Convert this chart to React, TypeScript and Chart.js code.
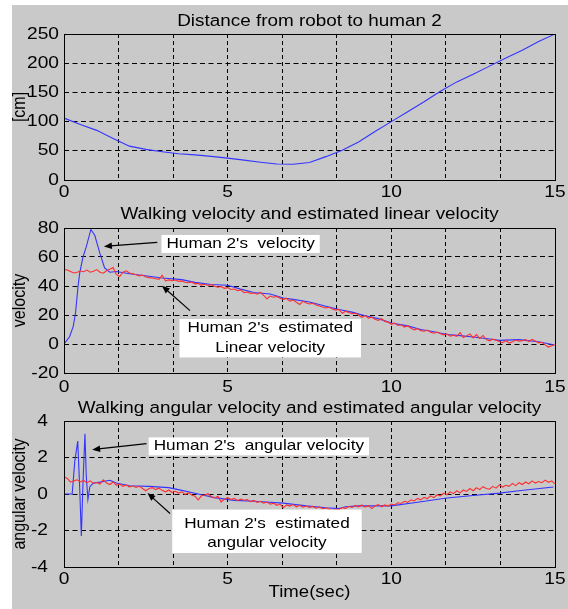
import React, { useEffect, useRef } from 'react';
import { Chart, registerables } from 'chart.js';

Chart.register(...registerables);

// ---------------- data ----------------
const distanceTime = [0, 0.5, 1, 1.5, 2, 2.5, 3, 3.5, 4, 4.5, 5, 5.5, 6, 6.5, 7, 7.5, 8, 8.5, 9, 9.5, 10, 10.5, 11, 11.5, 12, 12.5, 13, 13.5, 14, 14.5, 15];
const distanceCm = [106, 95, 85, 71, 58, 52.5, 48.5, 45, 43, 40.5, 37.5, 34, 30.5, 27.5, 27, 30, 40, 51, 65, 83, 100, 117, 134, 152, 168, 181, 195, 209, 222, 237, 250];

const velocityTime = [0, 0.17, 0.28, 0.35, 0.43, 0.48, 0.58, 0.68, 0.82, 0.94, 1.09, 1.24, 1.4, 1.6, 2.0, 2.6, 3.0, 3.6, 4.0, 4.5, 5.0, 5.37, 5.8, 6.3, 6.7, 7.0, 7.5, 8.0, 8.4, 8.8, 9.2, 9.6, 10.0, 10.5, 10.9, 11.3, 11.7, 12.1, 12.5, 13.0, 13.3, 13.9, 14.5, 14.95];
const walkingVelocity = [0, 5, 12, 21, 40, 49, 60, 67, 79, 75, 63, 52.5, 49.5, 50, 48.5, 46.7, 45.5, 44.4, 42.5, 41, 40.5, 38, 35.5, 34.5, 31.7, 30.8, 29, 26, 23.8, 22, 19.5, 17.5, 14.5, 12.5, 10, 8.5, 6.5, 5.8, 4.8, 3.5, 2.5, 3, 1.5, -0.5];

// estimated series, one sample every 0.1 s from 0 to 15 s
const SAMPLE_STEP = 0.1;
const estimatedLinearVelocity = [
  51.5, 51, 50, 49, 49.5, 50.3, 49.8, 51, 49.5, 50.2,
  51.3, 49.5, 48.8, 50.5, 51.5, 52.8, 48, 46.5, 49.5, 50.5,
  49, 48.5, 47.8, 47, 47.5, 46.2, 45.8, 45.5, 45, 44.6,
  47.5, 43.5, 44.2, 43.6, 44.1, 43.2, 43.5, 42.6, 42.2, 42.8,
  41.5, 41.8, 40.6, 41.2, 40.4, 40.9, 39.8, 39.2, 39.6, 38.4,
  38.9, 37.6, 37.9, 36.8, 37.3, 35.4, 35.9, 34.8, 35.2, 34.3,
  35.6, 33.6, 31.2, 33.1, 32.3, 32.8, 31.5, 30.8, 31.4, 29.6,
  30.3, 28.8, 27.2, 29.4, 28.3, 27.6, 28.1, 26.9, 26.2, 25.5,
  24.8, 25.3, 24.1, 23.4, 23.9, 21.2, 22.6, 21.8, 20.9, 21.3,
  19.8, 18.4, 19.6, 17.9, 18.5, 17.1, 16.2, 17.4, 15.6, 15.1,
  13.6, 14.4, 12.8, 13.3, 11.7, 12.6, 10.9, 9.8, 10.6, 9.2,
  8.8, 9.6, 8.1, 7.4, 8.2, 7.1, 6.3, 6.9, 5.4, 6.1,
  5.2, 7.8, 4.4, 5.6, 6.9, 4.2, 6.5, 3.8, 5.9, 3.1,
  2.2, 3.4, 2.6, 1.8, 0.9, 2.4, 0.6, 1.5, 2.7, 1.9,
  2.3, 3.1, 1.7, 3.2, 2.1, 0.8, 1.2, -0.6, -2.1, -1.2,
  -0.5,
];

const angularTime = [0, 0.25, 0.33, 0.42, 0.48, 0.53, 0.58, 0.64, 0.68, 0.73, 0.79, 0.9, 1.1, 1.4, 1.6, 2.0, 2.6, 3.2, 3.6, 4.1, 4.6, 5.2, 5.8, 6.7, 7.4, 8.0, 8.4, 8.6, 9.0, 10.0, 10.8, 11.7, 12.5, 13.3, 13.9, 14.95];
const walkingAngularVelocity = [0, 0, 1.8, 2.9, 0.3, -2.3, 0.6, 3.3, 1.0, -0.3, 0.4, 0.6, 0.65, 0.75, 0.6, 0.45, 0.42, 0.35, 0.2, 0, -0.2, -0.35, -0.4, -0.5, -0.65, -0.75, -0.8, -0.7, -0.65, -0.65, -0.45, -0.22, -0.08, 0.05, 0.18, 0.38];
const estimatedAngularVelocity = [
  0.95, 0.85, 0.65, 0.72, 0.78, 0.66, 0.74, 0.62, 0.72, 0.58,
  0.63, 0.55, 0.78, 0.6, 0.52, 0.66, 0.48, 0.55, 0.42, 0.5,
  0.38, 0.45, 0.36, 0.42, 0.3, 0.18, 0.3, 0.35, 0.24, 0.32,
  0.2, 0.12, 0.22, 0.08, 0.15, 0.05, 0.12, -0.02, 0.06, -0.05,
  -0.12, -0.32, -0.1, -0.05, 0.02, -0.15, -0.22, -0.12, -0.44, -0.28,
  -0.2, -0.3, -0.24, -0.36, -0.28, -0.34, -0.3, -0.42, -0.35, -0.46,
  -0.4, -0.5, -0.44, -0.56, -0.5, -0.62, -0.55, -0.75, -0.6, -0.66,
  -0.58, -0.7, -0.62, -0.72, -0.66, -0.74, -0.68, -0.78, -0.7, -0.82,
  -0.76, -0.84, -0.9, -0.82, -0.86, -0.74, -0.8, -0.68, -0.74, -0.62,
  -0.7, -0.6, -0.72, -0.64, -0.8, -0.66, -0.58, -0.7, -0.6, -0.66,
  -0.55, -0.6, -0.48, -0.52, -0.4, -0.46, -0.32, -0.38, -0.24, -0.32,
  -0.18, -0.26, -0.1, -0.2, -0.04, -0.1, 0.05, -0.04, 0.12, 0.02,
  0.18, 0.06, 0.22, 0.14, 0.3, 0.18, 0.34, 0.24, 0.4, 0.3,
  0.26, 0.42, 0.32, 0.5, 0.38, 0.48, 0.42, 0.58, 0.46, 0.62,
  0.52, 0.66, 0.56, 0.72, 0.6, 0.68, 0.62, 0.76, 0.64, 0.72,
  0.55,
];

const xTickLabels = [0, 5, 10, 15];
const xGridCount = 9; // grid divisions across 0..15
const distanceYTicks = [0, 250, 50];
const velocityYTicks = [-20, 80, 20];
const angularYTicks = [-4, 4, 2];

// ---------------- styles / layout ----------------
const FONT = '"Liberation Sans", Arial, Helvetica, sans-serif';
const SX = 1.16; // horizontal stretch of the original figure's text
const BLUE = '#3434ff';
const RED = '#ff2f2f';
const CANVAS_W = 556;

type Ann =
  | { kind: 'text'; x: number; y: number; lines: string[]; align: 'left' | 'center'; padX: number; padTop: number; padBottom: number }
  | { kind: 'arrow'; x1: number; y1: number; x2: number; y2: number };

interface PanelSpec {
  title: string;
  yTitle: string;
  xTitle?: string;
  yRange: number[];
  series: { t: number[]; v: number[]; color: string }[];
  canvasTop: number;
  canvasH: number;
  padTop: number;
  xAxisH: number;
  yLabelGap: number;
  xLabelGap: number;
  titleGap: number;
  ann: Ann[];
}

const uniformTimes = (vals: number[]) => vals.map((_, i) => Math.round(i * SAMPLE_STEP * 10) / 10);

const panels: PanelSpec[] = [
  {
    title: 'Distance from robot to human 2',
    yTitle: '[cm]',
    yRange: distanceYTicks,
    series: [{ t: distanceTime, v: distanceCm, color: BLUE }],
    canvasTop: 5,
    canvasH: 195,
    padTop: 29,
    xAxisH: 20,
    yLabelGap: 5,
    xLabelGap: 4,
    titleGap: 8,
    ann: [],
  },
  {
    title: 'Walking velocity and estimated linear velocity',
    yTitle: 'velocity',
    yRange: velocityYTicks,
    series: [
      { t: uniformTimes(estimatedLinearVelocity), v: estimatedLinearVelocity, color: RED },
      { t: velocityTime, v: walkingVelocity, color: BLUE },
    ],
    canvasTop: 200,
    canvasH: 200,
    padTop: 28,
    xAxisH: 27,
    yLabelGap: 5,
    xLabelGap: 6,
    titleGap: 9,
    ann: [
      { kind: 'text', x: 3.13, y: 69, lines: ["Human 2's  velocity"], align: 'left', padX: 5, padTop: 9, padBottom: 9 },
      { kind: 'arrow', x1: 2.85, y1: 70.1, x2: 1.22, y2: 67.3 },
      { kind: 'text', x: 6.3, y: 11.0, lines: ["Human 2's  estimated", 'Linear velocity'], align: 'center', padX: 8, padTop: 9, padBottom: 10 },
      { kind: 'arrow', x1: 3.85, y1: 23, x2: 2.99, y2: 40.2 },
    ],
  },
  {
    title: 'Walking angular velocity and estimated angular velocity',
    yTitle: 'angular velocity',
    xTitle: 'Time(sec)',
    yRange: angularYTicks,
    series: [
      { t: uniformTimes(estimatedAngularVelocity), v: estimatedAngularVelocity, color: RED },
      { t: angularTime, v: walkingAngularVelocity, color: BLUE },
    ],
    canvasTop: 400,
    canvasH: 209,
    padTop: 21,
    xAxisH: 42,
    yLabelGap: 16,
    xLabelGap: 4,
    titleGap: 8,
    ann: [
      { kind: 'text', x: 2.74, y: 2.61, lines: ["Human 2's  angular velocity"], align: 'left', padX: 5, padTop: 9, padBottom: 9 },
      { kind: 'arrow', x1: 2.52, y1: 2.76, x2: 0.86, y2: 2.43 },
      { kind: 'text', x: 6.2, y: -1.62, lines: ["Human 2's  estimated", 'angular velocity'], align: 'center', padX: 12, padTop: 14, padBottom: 10 },
      { kind: 'arrow', x1: 3.24, y1: -1.07, x2: 2.55, y2: 0.05 },
    ],
  },
];

// ---------------- drawing helpers ----------------
function sText(ctx: CanvasRenderingContext2D, text: string, x: number, y: number, size: number, align: CanvasTextAlign, baseline: CanvasTextBaseline, rotate = false) {
  ctx.save();
  ctx.font = `${size}px ${FONT}`;
  ctx.textAlign = align;
  ctx.textBaseline = baseline;
  ctx.fillStyle = '#000';
  ctx.translate(x, y);
  if (rotate) {
    ctx.rotate(-Math.PI / 2);
    ctx.scale(1, SX);
  } else {
    ctx.scale(SX, 1);
  }
  ctx.fillText(text, 0, 0);
  ctx.restore();
}

function textW(ctx: CanvasRenderingContext2D, text: string, size: number) {
  ctx.save();
  ctx.font = `${size}px ${FONT}`;
  const w = ctx.measureText(text).width * SX;
  ctx.restore();
  return w;
}

const align = (v: number) => Math.round(v - 0.5) + 0.5;

const TICK_SIZE = 16.5;
const TITLE_SIZE = 16.3;
const ANN_SIZE = 14.8;
const AXIS_TITLE_SIZE = 16;
const LINE_GAP = 19.4;

function makePlugin(p: PanelSpec) {
  return {
    id: 'figureDecor',
    afterDraw(chart: any) {
      const { ctx, chartArea: a, scales } = chart;
      const xs = scales.x;
      const ys = scales.y;
      ctx.save();
      // annotations
      for (const an of p.ann) {
        if (an.kind === 'text') {
          const px = xs.getPixelForValue(an.x);
          const py = ys.getPixelForValue(an.y);
          const widths = an.lines.map((l) => textW(ctx, l, ANN_SIZE));
          const maxW = Math.max(...widths);
          const left = an.align === 'left' ? px - an.padX : px - maxW / 2 - an.padX;
          const top = py - an.padTop;
          const bottom = py + (an.lines.length - 1) * LINE_GAP + an.padBottom;
          ctx.fillStyle = '#fff';
          ctx.fillRect(left, top, maxW + 2 * an.padX, bottom - top);
          an.lines.forEach((l, i) => {
            sText(ctx, l, px, py + i * LINE_GAP, ANN_SIZE, an.align, 'middle');
          });
        } else {
          const x1 = xs.getPixelForValue(an.x1);
          const y1 = ys.getPixelForValue(an.y1);
          const x2 = xs.getPixelForValue(an.x2);
          const y2 = ys.getPixelForValue(an.y2);
          const ang = Math.atan2(y2 - y1, x2 - x1);
          const L = 8;
          const W = 3.2;
          ctx.strokeStyle = '#000';
          ctx.fillStyle = '#000';
          ctx.lineWidth = 1.2;
          ctx.setLineDash([]);
          ctx.beginPath();
          ctx.moveTo(x1, y1);
          ctx.lineTo(x2 - Math.cos(ang) * L * 0.8, y2 - Math.sin(ang) * L * 0.8);
          ctx.stroke();
          ctx.beginPath();
          ctx.moveTo(x2, y2);
          ctx.lineTo(x2 - Math.cos(ang) * L - Math.sin(ang) * W, y2 - Math.sin(ang) * L + Math.cos(ang) * W);
          ctx.lineTo(x2 - Math.cos(ang) * L + Math.sin(ang) * W, y2 - Math.sin(ang) * L - Math.cos(ang) * W);
          ctx.closePath();
          ctx.fill();
        }
      }
      // frame
      ctx.strokeStyle = '#000';
      ctx.lineWidth = 1;
      ctx.setLineDash([]);
      const l = align(a.left);
      const t = align(a.top);
      const r = align(a.right);
      const b = align(a.bottom);
      ctx.strokeRect(l, t, r - l, b - t);
      // x tick labels
      for (const v of xTickLabels) {
        sText(ctx, String(v), xs.getPixelForValue(v), a.bottom + p.xLabelGap, TICK_SIZE, 'center', 'top');
      }
      // y tick labels
      for (const tk of ys.ticks) {
        sText(ctx, String(tk.value), a.left - p.yLabelGap, ys.getPixelForValue(tk.value), TICK_SIZE, 'right', 'middle');
      }
      // title
      sText(ctx, p.title, (a.left + a.right) / 2, a.top - p.titleGap, TITLE_SIZE, 'center', 'alphabetic');
      // y title
      sText(ctx, p.yTitle, 8, (a.top + a.bottom) / 2, AXIS_TITLE_SIZE, 'center', 'middle', true);
      // x title
      if (p.xTitle) {
        sText(ctx, p.xTitle, (a.left + a.right) / 2, a.bottom + 26, AXIS_TITLE_SIZE, 'center', 'middle');
      }
      ctx.restore();
    },
  };
}

function buildConfig(p: PanelSpec): any {
  const gridValues = Array.from({ length: xGridCount + 1 }, (_, i) => (15 * i) / xGridCount);
  return {
    type: 'line',
    data: {
      datasets: p.series.map((s) => ({
        data: s.t.map((t, i) => ({ x: t, y: s.v[i] })),
        borderColor: s.color,
        borderWidth: 1.1,
        pointRadius: 0,
        fill: false,
        tension: 0,
      })),
    },
    options: {
      animation: false,
      responsive: false,
      maintainAspectRatio: false,
      devicePixelRatio: 1,
      events: [],
      layout: { padding: { left: 0, right: 13, top: p.padTop, bottom: 0 } },
      plugins: { legend: { display: false }, tooltip: { enabled: false }, title: { display: false } },
      scales: {
        x: {
          type: 'linear',
          min: 0,
          max: 15,
          afterBuildTicks: (sc: any) => {
            sc.ticks = gridValues.map((v) => ({ value: v }));
          },
          afterFit: (sc: any) => {
            sc.height = p.xAxisH;
          },
          ticks: { display: false },
          grid: { color: '#000', lineWidth: 1, drawTicks: false },
          border: { display: false, dash: [4, 3] },
        },
        y: {
          type: 'linear',
          min: p.yRange[0],
          max: p.yRange[1],
          afterFit: (sc: any) => {
            sc.width = 52;
          },
          ticks: { display: false, stepSize: p.yRange[2] },
          grid: { color: '#000', lineWidth: 1, drawTicks: false },
          border: { display: false, dash: [5, 3.5] },
        },
      },
    },
    plugins: [makePlugin(p)],
  };
}

function Panel({ p }: { p: PanelSpec }) {
  const ref = useRef<HTMLCanvasElement>(null);
  useEffect(() => {
    const chart = new Chart(ref.current as HTMLCanvasElement, buildConfig(p));
    return () => chart.destroy();
  }, [p]);
  return (
    <canvas
      ref={ref}
      width={CANVAS_W}
      height={p.canvasH}
      style={{ position: 'absolute', left: 12, top: p.canvasTop, width: CANVAS_W, height: p.canvasH }}
    />
  );
}

export default function App() {
  return (
    <div style={{ position: 'absolute', left: 0, top: 0, width: 568, height: 609, background: '#fff', overflow: 'hidden' }}>
      <div style={{ position: 'absolute', left: 12, top: 5, width: 556, height: 604, background: '#c9c9c9' }} />
      {panels.map((p, i) => (
        <Panel key={i} p={p} />
      ))}
    </div>
  );
}
